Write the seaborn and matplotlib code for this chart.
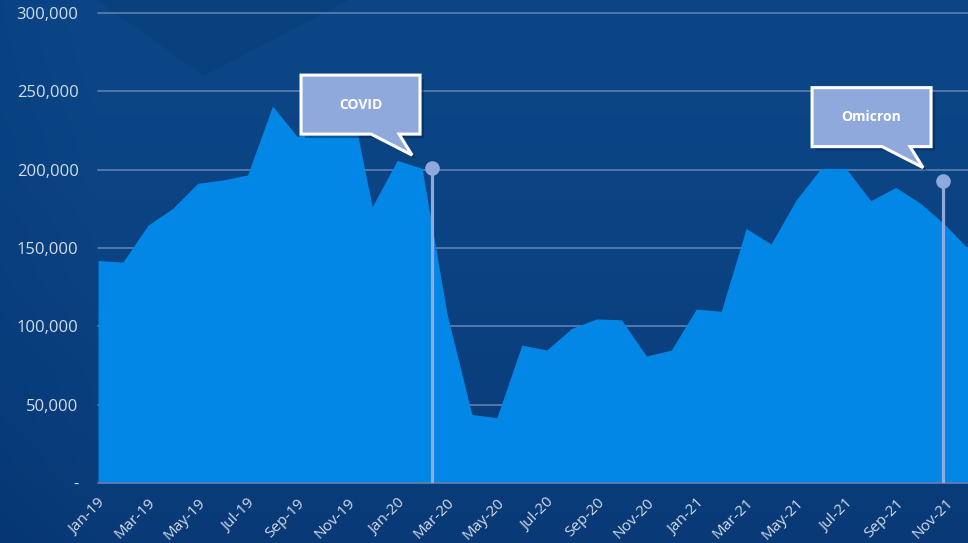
import numpy as np
import pandas as pd
import matplotlib
matplotlib.use("Agg")
import matplotlib.pyplot as plt
from matplotlib.patches import Polygon
import seaborn as sns

# ---------------- data ----------------
months = ["Jan-19", "Feb-19", "Mar-19", "Apr-19", "May-19", "Jun-19", "Jul-19", "Aug-19",
          "Sep-19", "Oct-19", "Nov-19", "Dec-19", "Jan-20", "Feb-20", "Mar-20", "Apr-20",
          "May-20", "Jun-20", "Jul-20", "Aug-20", "Sep-20", "Oct-20", "Nov-20", "Dec-20",
          "Jan-21", "Feb-21", "Mar-21", "Apr-21", "May-21", "Jun-21", "Jul-21", "Aug-21",
          "Sep-21", "Oct-21", "Nov-21", "Dec-21"]
values = [142000, 141000, 164500, 175300, 191300, 193400, 196600, 240600,
          221000, 228000, 255000, 176300, 206000, 200800, 108000, 43800,
          41700, 88000, 84900, 98700, 104700, 104200, 81000, 84900,
          111000, 109600, 162500, 152500, 180600, 200800, 200800, 180200,
          188700, 178500, 164500, 148000]
yticks = [0, 50000, 100000, 150000, 200000, 250000, 300000]
ytick_labels = ["-", "50,000", "100,000", "150,000", "200,000", "250,000", "300,000"]
event_labels = ["COVID", "Omicron"]
event_x = [13.4, 33.9]
event_y = [201000, 193000]

# ---------------- style ----------------
BG = "#0B4584"
AREA = "#0387E6"
PIN = "#8FA9DC"
GRID = "#5F80AE"
TXT = "#D3DCEA"

sns.set_theme(style="white")
plt.rcParams["font.family"] = ["Open Sans", "DejaVu Sans"]

W, H, DPI = 968, 543, 100
fig = plt.figure(figsize=(W / DPI, H / DPI), dpi=DPI, facecolor=BG)

# background gradient + subtle shapes
bg = fig.add_axes([0, 0, 1, 1], zorder=-10)
bg.set_axis_off()
gy = np.linspace(0, 1, 200)[:, None]
gx = np.linspace(0, 1, 300)[None, :]
c_top = np.array([0x0C, 0x46, 0x86]) / 255
c_bot = np.array([0x09, 0x3A, 0x77]) / 255
t = (gy ** 1.6) * np.ones_like(gx)
img = c_top[None, None, :] * (1 - t[..., None]) + c_bot[None, None, :] * t[..., None]
img = img - (0.012 * np.clip(1 - gx / 0.1, 0, 1))[..., None]
bg.imshow(np.clip(img, 0, 1), extent=[0, 1, 1, 0], aspect="auto")
bg.set_xlim(0, 1)
bg.set_ylim(1, 0)
bg.add_patch(Polygon([(0.10, 0.0), (0.36, 0.0), (0.21, 0.14)],
                     closed=True, facecolor="#062F66", alpha=0.22, lw=0))

ax = fig.add_axes([98 / W, (H - 483) / H, 1 - 98 / W, (483 - 13) / H])
ax.set_facecolor("none")

df = pd.DataFrame({"idx": np.arange(len(months)), "value": values, "month": months})
sns.lineplot(data=df, x="idx", y="value", ax=ax, color=AREA, linewidth=0, zorder=3)
ax.fill_between(df["idx"], 0, df["value"], color=AREA, linewidth=0, zorder=3)

ax.set_xlim(0, 34.9)
ax.set_ylim(0, 300000)
ax.set_yticks(yticks)
ax.set_yticklabels(ytick_labels)
for yv in yticks:
    ax.axhline(yv, color=GRID, lw=1.2, zorder=1 if yv > 0 else 4, clip_on=False)

xt = list(range(0, len(months), 2))
ax.set_xticks(xt)
ax.set_xticklabels([months[i] for i in xt], rotation=45, ha="right",
                   rotation_mode="anchor", color=TXT, fontsize=11)
ax.tick_params(axis="x", length=0, pad=9)
ax.tick_params(axis="y", length=0, pad=14, labelcolor=TXT, labelsize=12)
for s in ax.spines.values():
    s.set_visible(False)
ax.set_xlabel("")
ax.set_ylabel("")

# pins and callouts (callout shape given as pixel offsets from the pin head)
box_l, box_r, box_b, box_h = -131, -12, 34, 59
tail_a, tail_b, tip = -61, -33, (-20, 13)
for lab, ex, ey in zip(event_labels, event_x, event_y):
    ax.plot([ex, ex], [0, ey], color=PIN, lw=2.3, zorder=5, solid_capstyle="butt")
    ax.plot([ex], [ey], marker="o", ms=10.5, color=PIN, mec="none", zorder=6)
    base = ax.transData.transform((ex, ey))
    pts = np.array([(box_l, box_b), (tail_a, box_b), tip, (tail_b, box_b), (box_r, box_b),
                    (box_r, box_b + box_h), (box_l, box_b + box_h)], dtype=float)
    pts_disp = pts + base
    shadow = pts_disp + np.array([4, -4])
    ax.add_patch(Polygon(shadow, closed=True, transform=None, facecolor="#041f45",
                         alpha=0.45, lw=0, zorder=7, clip_on=False))
    ax.add_patch(Polygon(pts_disp, closed=True, transform=None, facecolor=PIN,
                         edgecolor="white", lw=2.2, joinstyle="miter", zorder=8, clip_on=False))
    cx, cy = base + np.array([(box_l + box_r) / 2, box_b + box_h / 2])
    ax.text(cx, cy, lab, transform=None, ha="center", va="center", color="white",
            fontsize=10, fontweight="bold", zorder=9)

fig.savefig("out.png", dpi=DPI, facecolor=BG)
